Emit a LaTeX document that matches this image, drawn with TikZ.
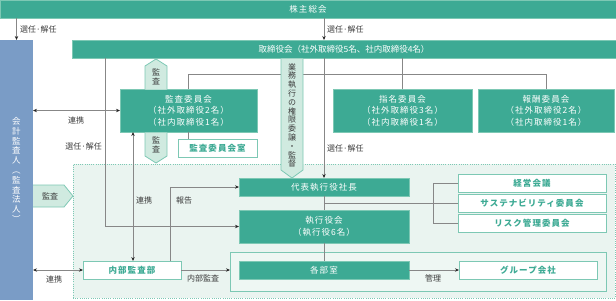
\documentclass[tikz,border=0pt]{standalone}
\usepackage{fontspec}
\setmainfont{Noto Sans CJK JP}
\newfontfamily\jpsp[LetterSpace=12]{Noto Sans CJK JP}
\usetikzlibrary{arrows.meta,calc}
\definecolor{tealA}{RGB}{61,170,148}
\definecolor{tealL}{RGB}{125,200,180}
\definecolor{regionF}{RGB}{234,244,240}
\definecolor{pentF}{RGB}{208,234,224}
\definecolor{audB}{RGB}{122,156,198}
\definecolor{lineG}{RGB}{135,135,135}
\definecolor{txtG}{RGB}{60,60,60}
\definecolor{outerF}{RGB}{238,247,243}
\newcommand\rbox[7]{\node[#1,anchor=north west,minimum width={(#4-#2)*1pt},minimum height={(#5-#3)*1pt}] (#6) at (#2,#3) {#7};}
\tikzset{
  tbox/.style={fill=tealA,draw=tealL,line width=0.5pt,text=white,inner sep=0pt,outer sep=0pt,align=center,font={\jpsp\fontsize{8.5}{11.5}\selectfont}},
  wbox/.style={fill=white,draw=tealL,line width=0.9pt,text=tealA,inner sep=0pt,outer sep=0pt,align=center,font={\jpsp\bfseries\fontsize{8.5}{10}\selectfont}},
  pent/.style={fill=pentF,draw=tealL,line width=0.8pt},
  ptxt/.style={text=txtG,inner sep=0pt,align=center,font={\fontsize{8}{8.8}\selectfont}},
  ln/.style={draw=lineG,line width=0.7pt},
  arr/.style={ln,-{Stealth[length=4pt,width=3.4pt,color=black!85]}},
  darr/.style={ln,{Stealth[length=4pt,width=3.4pt,color=black!85]}-{Stealth[length=4pt,width=3.4pt,color=black!85]}},
  lbl/.style={text=txtG,inner sep=0pt,font={\fontsize{8}{9}\selectfont}},
}
\begin{document}
\begin{tikzpicture}[x=1pt,y=-1pt]
\useasboundingbox (0,0) rectangle (616,300);
\fill[white] (0,0) rectangle (616,300);
% region
\rbox{fill=regionF,draw=tealL,line width=0.8pt,dash pattern=on 0.8pt off 1.4pt,inner sep=0pt,outer sep=0pt}{73}{164}{615}{298}{region}{}
% top bars
\rbox{tbox}{0}{0}{616}{18}{sh}{株主総会}
\rbox{tbox,font={\fontsize{8.5}{10}\selectfont}}{72}{40}{616}{58}{bd}{取締役会（社外取締役5名、社内取締役4名）}
\rbox{fill=audB,inner sep=0pt,outer sep=0pt,text=white,align=center,font={\fontsize{8.5}{9.8}\selectfont}}{0}{40}{33}{300}{aud}{会\\計\\監\\査\\人\\︵\\監\\査\\法\\人\\︶}
% coordinates
\coordinate (kx) at (105,0);
\coordinate (acx) at (188,74);
\coordinate (cx) at (133,0);
\coordinate (rx) at (170,0);
\coordinate (bk) at (433,0);
% committee bus (behind delegation arrow)
\rbox{tbox}{120}{89}{257}{132}{ac}{監査委員会\\（社外取締役2名）\\（社内取締役1名）}
\rbox{tbox}{333}{89}{472}{132}{nom}{指名委員会\\（社外取締役3名）\\（社内取締役1名）}
\rbox{tbox}{478}{89}{614}{132}{rem}{報酬委員会\\（社外取締役2名）\\（社内取締役1名）}
\draw[ln] (acx |- ac.north) -- (acx) -- (rem.north |- acx) -- (rem.north);
\draw[ln] (bd.south -| nom.north) -- (nom.north);
% pentagons
\filldraw[pent] (145,89.5) -- (145,66) -- (156,59) -- (167,66) -- (167,89.5);
\node[ptxt] (pa) at (156,76.5) {監\\査};
\filldraw[pent] (145,132.5) -- (145,156) -- (156,163) -- (167,156) -- (167,132.5);
\node[ptxt] (pb) at (156,145) {監\\査};
\filldraw[pent] (281,58.5) -- (281,170) -- (292,178) -- (303,170) -- (303,58.5);
\node[ptxt] (pc) at (292,115.5) {業\\務\\執\\行\\の\\権\\限\\委\\譲\\・\\監\\督};
\filldraw[pent] (33,185) -- (64,185) -- (73,196) -- (64,207) -- (33,207);
\node[ptxt] (pd) at (50,196) {監査};
% other boxes
\rbox{wbox}{178}{139}{257}{157}{acr}{監査委員会室}
\rbox{tbox}{239}{178}{409}{196}{dai}{代表執行役社長}
\rbox{tbox}{239}{210}{409}{243}{exe}{執行役会\\（執行役6名）}
\rbox{fill=outerF,draw=tealL,line width=0.9pt,inner sep=0pt,outer sep=0pt}{230}{252}{606}{291}{outer}{}
\rbox{tbox}{239}{261}{409}{279}{dept}{各部室}
\rbox{wbox}{459}{261}{597}{279}{grp}{グループ会社}
\rbox{wbox}{458}{174}{606}{192}{kei}{経営会議}
\rbox{wbox}{458}{194}{606}{212}{sus}{サステナビリティ委員会}
\rbox{wbox}{458}{214}{606}{232}{risk}{リスク管理委員会}
\rbox{wbox}{83}{261}{181}{279}{ia}{内部監査部}
% connectors
\draw[arr] (sh.south -| aud.north) -- (aud.north);
\draw[arr] (sh.south -| dai.north) -- (bd.north -| dai.north);
\draw[arr] (bd.south -| dai.north) -- (dai.north);
\draw[arr] (bd.south -| kx) |- (exe.west);
\draw[darr] (aud.east |- ac.west) -- (ac.west);
\draw[ln] (acx |- ac.south) -- (acx |- acr.north);
\draw[darr] (ac.south -| cx) -- (ia.north -| cx);
\draw[arr] (ia.north -| rx) |- (dai.west);
\draw[darr] (aud.east |- ia.west) -- (ia.west);
\draw[arr] (ia.east) -- (outer.west |- ia.east);
\draw[ln] (dai.south) -- (exe.north);
\draw[ln] (exe.south) -- (dept.north);
\draw[ln] (dai.south |- sus.west) -- (sus.west);
\draw[ln] (kei.west) -- (kei.west -| bk) -- (risk.west -| bk) -- (risk.west);
\draw[arr] (dept.east) -- (dept.east -| grp.west);
% labels
\node[lbl,anchor=west] (l1) at (20,29) {選任·解任};
\node[lbl,anchor=west] (l2) at (327,29) {選任·解任};
\node[lbl,anchor=west] (l3) at (327,148) {選任·解任};
\node[lbl,anchor=east] (l4) at (102,146) {選任·解任};
\node[lbl] (l5) at (76,120) {連携};
\node[lbl] (l6) at (144,200) {連携};
\node[lbl] (l7) at (184,200) {報告};
\node[lbl] (l8) at (54,279) {連携};
\node[lbl] (l9) at (203,278) {内部監査};
\node[lbl] (l10) at (433,278) {管理};
\end{tikzpicture}
\end{document}
